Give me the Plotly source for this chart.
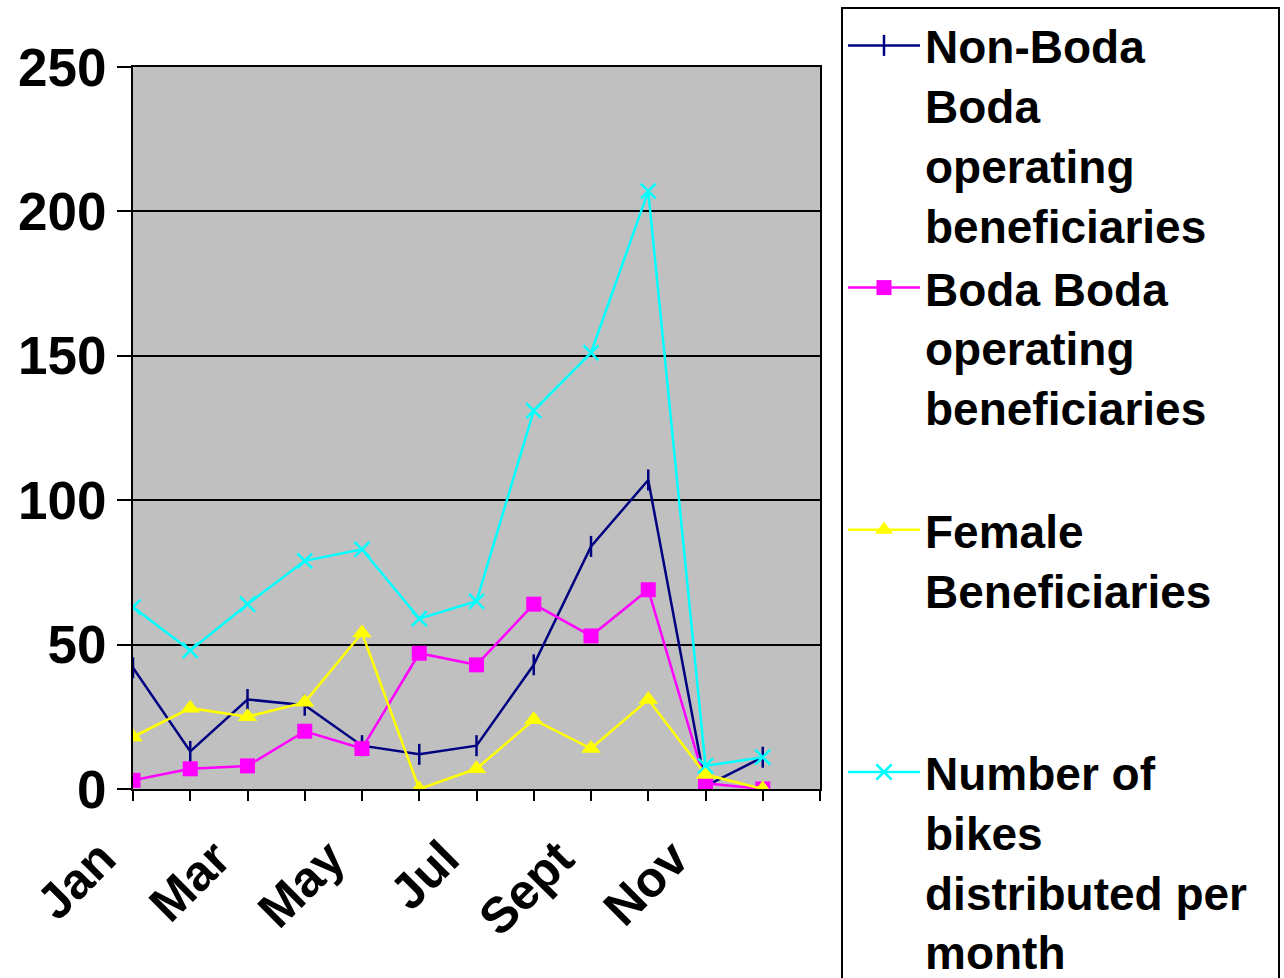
import plotly.graph_objects as go

months = ["Jan", "Feb", "Mar", "Apr", "May", "Jun", "Jul", "Aug", "Sept", "Oct", "Nov", "Dec"]
tick_labels = ["Jan", "", "Mar", "", "May", "", "Jul", "", "Sept", "", "Nov", "", ""]

non_boda = [42, 13, 31, 29, 15, 12, 15, 43, 84, 107, 1, 11]
boda = [3, 7, 8, 20, 14, 47, 43, 64, 53, 69, 2, 0]
female = [18, 28, 25, 30, 54, 0, 7, 24, 14, 31, 5, 0]
bikes = [63, 48, 64, 79, 83, 59, 65, 131, 151, 207, 8, 11]

names = [
    "Non-Boda<br>Boda<br>operating<br>beneficiaries",
    "Boda Boda<br>operating<br>beneficiaries<br>&nbsp;",
    "Female<br>Beneficiaries<br>&nbsp;<br>&nbsp;",
    "Number of<br>bikes<br>distributed per&nbsp;&nbsp;<br>month",
]

x = list(range(len(months)))
FONT = "Liberation Sans, Arial, sans-serif"
W, H = 1284, 978

fig = go.Figure()
fig.add_trace(go.Scatter(x=x, y=non_boda, name=names[0], mode="lines+markers",
                         line=dict(color="#000080", width=2.5),
                         marker=dict(symbol="line-ns", size=15, line=dict(color="#000080", width=2.5))))
fig.add_trace(go.Scatter(x=x, y=boda, name=names[1], mode="lines+markers",
                         line=dict(color="#FF00FF", width=2.5),
                         marker=dict(symbol="square", size=15, color="#FF00FF")))
fig.add_trace(go.Scatter(x=x, y=female, name=names[2], mode="lines+markers",
                         line=dict(color="#FFFF00", width=2.5),
                         marker=dict(symbol="triangle-up", size=17, color="#FFFF00")))
fig.add_trace(go.Scatter(x=x, y=bikes, name=names[3], mode="lines+markers",
                         line=dict(color="#00FFFF", width=2.5),
                         marker=dict(symbol="x-thin", size=15, line=dict(color="#00FFFF", width=2.5))))

fig.update_layout(
    width=W, height=H,
    margin=dict(l=133, r=464, t=67, b=189),
    paper_bgcolor="white",
    plot_bgcolor="#C0C0C0",
    font=dict(family=FONT, size=46, color="black", weight="bold"),
    showlegend=True,
    legend=dict(
        xref="container", yref="container",
        x=841 / W, xanchor="left",
        y=1 - 7 / H, yanchor="top",
        bgcolor="white", bordercolor="black", borderwidth=2,
        font=dict(family=FONT, size=46, color="black", weight="bold"),
        valign="top", tracegroupgap=0, maxheight=2000, itemwidth=72,
    ),
)
fig.update_xaxes(
    range=[0, 12], tickmode="array", tickvals=list(range(13)), ticktext=tick_labels,
    tickangle=-45, ticks="outside", ticklen=10, tickwidth=2, tickcolor="black",
    ticklabelshift=-32, ticklabelstandoff=8, automargin=False,
    showline=True, linecolor="black", linewidth=2, mirror=True,
    showgrid=False, zeroline=False,
    tickfont=dict(family=FONT, size=50, color="black", weight="bold"),
)
fig.update_yaxes(
    range=[0, 250], dtick=50, ticks="outside", ticklen=14, tickwidth=2, tickcolor="black",
    automargin=False,
    showline=True, linecolor="black", linewidth=2, mirror=True,
    showgrid=True, gridcolor="black", gridwidth=2, zeroline=False,
    tickfont=dict(family=FONT, size=53, color="black", weight="bold"),
)

fig.write_html("out.html", config={"displayModeBar": False},
               post_script="document.body.style.margin='0';")
